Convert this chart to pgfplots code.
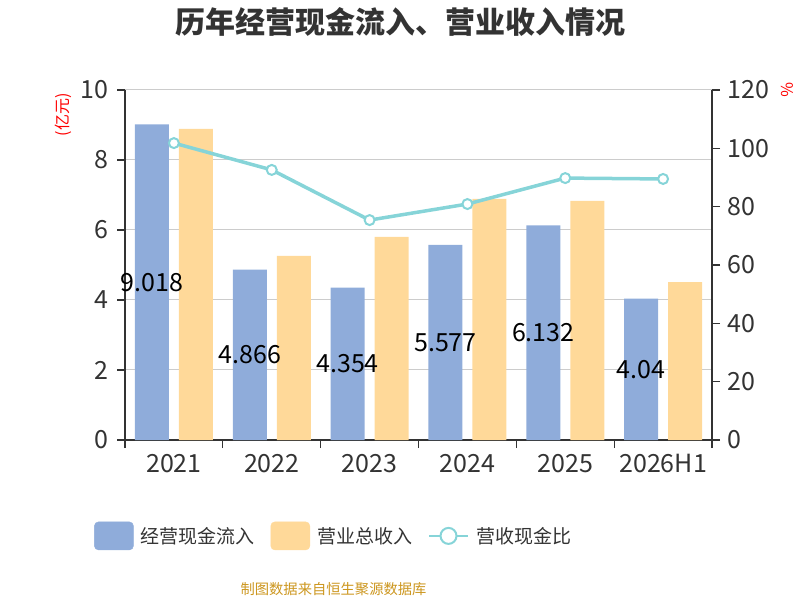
\documentclass[border=0pt]{standalone}
\usepackage{fontspec}
\setmainfont{Noto Sans CJK SC}
\usepackage{pgfplots}
\pgfplotsset{compat=1.18}
\definecolor{cfblue}{RGB}{143,172,218}
\definecolor{cforange}{RGB}{255,217,153}
\definecolor{cfline}{RGB}{134,212,216}
\definecolor{axisgray}{RGB}{51,51,51}
\definecolor{gridgray}{RGB}{204,204,204}
\definecolor{srcgold}{RGB}{204,150,30}
\begin{document}
\begin{tikzpicture}[x=1pt,y=1pt]
\path[use as bounding box] (0,0) rectangle (800,600);
\begin{axis}[
  at={(125pt,160pt)}, anchor=south west,
  scale only axis, width=587pt, height=350pt,
  xmin=-0.5, xmax=5.5, ymin=0, ymax=10,
  axis x line*=bottom, axis y line*=left,
  axis line style={axisgray, line width=1.6pt},
  xtick={0,...,5},
  xticklabels={2021,2022,2023,2024,2025,2026H1},
  major x tick style={draw=none},
  minor xtick={-0.5,0.5,...,5.5},
  minor x tick style={axisgray, line width=1.3pt},
  minor tick length=8pt,
  ytick={0,2,...,10},
  major tick length=8pt,
  tick align=outside,
  ytick style={axisgray, line width=1.3pt},
  ymajorgrids, grid style={gridgray, line width=1pt},
  /pgf/number format/assume math mode=true,
  ticklabel style={font=\fontsize{25}{25}\selectfont, text=axisgray},
  yticklabel style={xshift=-5pt},
  xticklabel style={yshift=-3pt},
  ybar, bar width=34pt,
  clip=false,
]
\addplot[ybar, bar shift=-22pt, fill=cfblue, draw=none,
  point meta=explicit symbolic,
  visualization depends on={y \as \rawy},
  nodes near coords,
  every node near coord/.append style={anchor=center, text=black,
    font=\fontsize{25}{25}\selectfont,
    shift={(axis direction cs:0,-\rawy/2)}}]
  coordinates {(0,9.018) [9.018] (1,4.866) [4.866] (2,4.354) [4.354]
               (3,5.577) [5.577] (4,6.132) [6.132] (5,4.04) [4.04]};
\addplot[ybar, bar shift=22pt, fill=cforange, draw=none]
  coordinates {(0,8.89) (1,5.26) (2,5.80) (3,6.89) (4,6.83) (5,4.51)};
\end{axis}
\begin{axis}[
  at={(125pt,160pt)}, anchor=south west,
  scale only axis, width=587pt, height=350pt,
  xmin=-0.5, xmax=5.5, ymin=0, ymax=120,
  axis y line*=right, axis x line=none,
  axis line style={axisgray, line width=1.6pt},
  ytick={0,20,...,120},
  major tick length=8pt, tick align=outside,
  ytick style={axisgray, line width=1.3pt},
  /pgf/number format/assume math mode=true,
  ticklabel style={font=\fontsize{25}{25}\selectfont, text=axisgray},
  yticklabel style={xshift=4pt},
  clip=false,
  legend columns=3,
  legend style={at={(-0.0528,-0.274)}, anchor=west, draw=none, fill=none,
    inner sep=0pt, font=\fontsize{19}{19}\selectfont, text=axisgray,
    nodes={inner sep=1pt},
    /tikz/every odd column/.append style={column sep=6pt},
    /tikz/every even column/.append style={column sep=15pt}},
]
\addlegendimage{legend image code/.code={\fill[cfblue, rounded corners=4pt] (0pt,-14pt) rectangle (39pt,14pt);}}
\addlegendentry{经营现金流入}
\addlegendimage{legend image code/.code={\fill[cforange, rounded corners=4pt] (0pt,-14pt) rectangle (39pt,14pt);}}
\addlegendentry{营业总收入}
\addplot[cfline, line width=3.5pt, mark=*, mark size=5pt,
  mark options={fill=white, draw=cfline, line width=2pt},
  legend image code/.code={\draw[cfline, line width=2pt] (0pt,0pt) -- (39pt,0pt);
    \draw[cfline, line width=2pt, fill=white] (19.5pt,0pt) circle (8pt);}]
  coordinates {(0,101.8) (1,92.6) (2,75.4) (3,80.9) (4,89.8) (5,89.5)};
\addlegendentry{营收现金比}
\end{axis}
\node[font=\bfseries\fontsize{30}{30}\selectfont, text=axisgray] at (400,578) {历年经营现金流入、营业收入情况};
\node[font=\fontsize{14.3}{14.3}\selectfont, text=srcgold] at (333.5,11) {制图数据来自恒生聚源数据库};
\node[font=\fontsize{16}{16}\selectfont, text=red, rotate=90] at (63,485) {(亿元)};
\node[font=\fontsize{16}{16}\selectfont, text=red, rotate=-90] at (787,510) {\%};
\end{tikzpicture}
\end{document}
